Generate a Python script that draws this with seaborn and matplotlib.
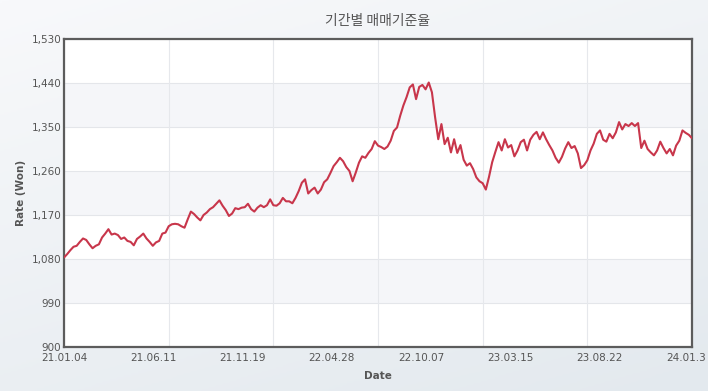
import numpy as np
import pandas as pd
import matplotlib
matplotlib.use("Agg")
import matplotlib.pyplot as plt
import matplotlib.transforms as mtransforms
from matplotlib.colors import LinearSegmentedColormap
from matplotlib.ticker import FixedLocator, FuncFormatter
import seaborn as sns

title = "기간별 매매기준율"
x_title = "Date"
y_title = "Rate (Won)"
# last label is shown cut short in the source chart
date_labels = ["21.01.04", "21.06.11", "21.11.19", "22.04.28",
               "22.10.07", "23.03.15", "23.08.22", "24.01.3"]
y_ticks = [900, 990, 1080, 1170, 1260, 1350, 1440, 1530]

# won per dollar in date order
rate_p1 = [1083, 1090, 1098, 1105, 1107, 1115, 1122, 1119, 1110, 1102,
           1107, 1110, 1124, 1132, 1141, 1130, 1132, 1129, 1121, 1124,
           1117, 1115, 1108, 1121, 1126, 1132, 1122, 1115, 1107, 1114,
           1117, 1132, 1134, 1147]
rate_p2 = [1151, 1152, 1151, 1147, 1144, 1161, 1177, 1172, 1165, 1159,
           1170, 1175, 1182, 1186, 1193, 1200, 1189, 1180, 1168, 1173,
           1184, 1182, 1185, 1186, 1193, 1182, 1177, 1185, 1190, 1186,
           1190, 1202, 1190]
rate_p3 = [1189, 1194, 1205, 1198, 1198, 1194, 1205, 1219, 1236, 1243,
           1214, 1221, 1226, 1214, 1222, 1237, 1243, 1256, 1270, 1278,
           1287, 1280, 1268, 1260, 1239, 1257, 1277, 1290, 1287, 1297,
           1305, 1321, 1312, 1309]
rate_p4 = [1305, 1310, 1322, 1342, 1349, 1373, 1394, 1411, 1431, 1437,
           1407, 1432, 1436, 1427, 1441, 1421, 1370, 1325, 1356, 1315,
           1328, 1298, 1325, 1297, 1313, 1283, 1271, 1276, 1264, 1247,
           1239, 1235, 1222]
rate_p5 = [1248, 1278, 1299, 1319, 1302, 1325, 1308, 1313, 1290, 1302,
           1319, 1324, 1302, 1324, 1334, 1340, 1325, 1339, 1325, 1313,
           1302, 1287, 1277, 1289, 1306, 1319, 1307, 1311, 1296, 1266,
           1272, 1282, 1302, 1316]
rate_p6 = [1336, 1343, 1324, 1320, 1336, 1327, 1339, 1360, 1345, 1356,
           1352, 1358, 1352, 1358, 1307, 1322, 1305, 1298, 1292, 1302,
           1320, 1307, 1296, 1305, 1292, 1312, 1322, 1343, 1338, 1334,
           1327]

rate = rate_p1 + rate_p2 + rate_p3 + rate_p4 + rate_p5 + rate_p6
df = pd.DataFrame({"step": np.arange(len(rate)), "rate": rate})
last = len(rate) - 1

sns.set_style("white")
plt.rcParams["font.family"] = ["DejaVu Sans"]

fig = plt.figure(figsize=(7.08, 3.91), dpi=100)

# soft gradient page background
bg = fig.add_axes([0, 0, 1, 1], zorder=0)
grad_cmap = LinearSegmentedColormap.from_list("bg", ["#f8f9fb", "#e3e9ee"])
gx, gy = np.meshgrid(np.linspace(0, 1, 200), np.linspace(0, 1, 200))
bg.imshow(0.35 * gx + 0.65 * gy, cmap=grad_cmap, aspect="auto",
          extent=[0, 1, 0, 1], origin="upper")
bg.axis("off")

ax = fig.add_axes([64 / 708, 1 - 347 / 391, 628 / 708, 308 / 391], zorder=1)
ax.set_facecolor("white")

# alternate shaded bands
for i in range(1, len(y_ticks) - 1, 2):
    ax.axhspan(y_ticks[i], y_ticks[i + 1], color="#f5f6f9", zorder=0, lw=0)

for yv in y_ticks:
    ax.axhline(yv, color="#e4e6ea", lw=0.8, zorder=1)
for xv in np.linspace(0, last, 7):
    ax.axvline(xv, color="#e6e8ec", lw=0.8, zorder=1)

sns.lineplot(data=df, x="step", y="rate", ax=ax, color="#c8364b",
             lw=1.5, zorder=3)

ax.set_xlim(0, last)
ax.set_ylim(y_ticks[0], y_ticks[-1])
ax.yaxis.set_major_locator(FixedLocator(y_ticks))
ax.yaxis.set_major_formatter(FuncFormatter(lambda v, p: f"{int(v):,}"))
ax.xaxis.set_major_locator(FixedLocator(np.linspace(0, last * 625 / 628, len(date_labels))))
ax.set_xticklabels(date_labels)
ax.tick_params(axis="both", length=0, labelsize=7.5, labelcolor="#555555")
ax.tick_params(axis="y", pad=2)
ax.tick_params(axis="x", pad=4)
ax.grid(False)

# keep the cut-short last date inside the canvas
end_lbl = ax.get_xticklabels()[-1]
end_lbl.set_ha("left")
end_lbl.set_transform(end_lbl.get_transform() +
                      mtransforms.ScaledTranslation(-23 / 100, 0, fig.dpi_scale_trans))

for s in ax.spines.values():
    s.set_color("#5c5c5c")
    s.set_linewidth(1.6)
    s.set_visible(True)

ax.set_xlabel(x_title, fontsize=7.5, fontweight="bold", color="#555555", labelpad=6)
ax.set_ylabel(y_title, fontsize=7.5, fontweight="bold", color="#555555", labelpad=4)
ax.set_title(title, fontsize=10, color="#555555", pad=10,
             family=["Noto Sans CJK KR", "DejaVu Sans"])

fig.savefig("out.png", dpi=100)
